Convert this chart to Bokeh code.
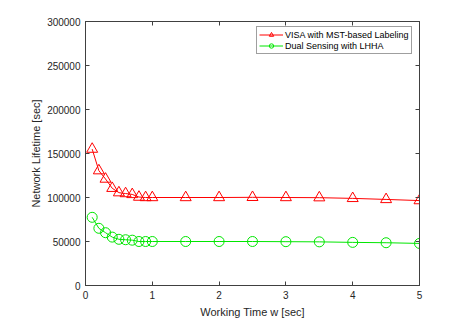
from bokeh.plotting import figure
from bokeh.models import LinearAxis, FixedTicker, Range1d, Legend, LegendItem, CustomJSTickFormatter
from bokeh.embed import file_html
from bokeh.resources import INLINE

x_vals = [0.1, 0.2, 0.3, 0.4, 0.5, 0.6, 0.7, 0.8, 0.9, 1.0, 1.5, 2.0, 2.5, 3.0, 3.5, 4.0, 4.5, 5.0]
visa_mst = [155000, 130500, 121000, 110500, 105500, 104500, 103500, 100500, 100000, 100000,
            100000, 100000, 100200, 100000, 99800, 99000, 97800, 96500]
dual_lhha = [77500, 65000, 60000, 55000, 52500, 52000, 51500, 50000, 50000, 50000,
             50000, 50000, 50000, 49800, 49600, 49000, 48600, 47800]
x_ticks = [0, 1, 2, 3, 4, 5]
y_ticks = [0, 50000, 100000, 150000, 200000, 250000, 300000]

FONT = "Liberation Sans"
AXC = "#404040"

p = figure(frame_width=334, frame_height=264, min_border_left=85, min_border_right=39,
           min_border_top=21, min_border_bottom=31,
           x_range=Range1d(0, 5), y_range=Range1d(0, 300000),
           output_backend="svg", toolbar_location=None,
           x_axis_label="Working Time w [sec]", y_axis_label="Network Lifetime [sec]")
p.grid.visible = False
p.outline_line_color = AXC
p.outline_line_width = 1
p.background_fill_color = "white"
p.border_fill_color = "white"

def style(ax, ticks, show_labels=True):
    ax.ticker = FixedTicker(ticks=ticks)
    ax.major_tick_in = 4
    ax.major_tick_out = 0
    ax.minor_tick_line_color = None
    ax.axis_line_color = AXC
    ax.major_tick_line_color = AXC
    ax.major_label_text_font = FONT
    ax.major_label_text_font_size = "10px"
    ax.major_label_text_color = "#262626"
    ax.axis_label_text_font = FONT
    ax.axis_label_text_font_size = "11px"
    ax.axis_label_text_font_style = "normal"
    ax.axis_label_text_color = "#262626"
    if not show_labels:
        ax.formatter = CustomJSTickFormatter(code="return '';")
        ax.major_label_standoff = 0

style(p.xaxis[0], x_ticks)
style(p.yaxis[0], y_ticks)
p.xaxis[0].major_label_standoff = 5
p.xaxis[0].axis_label_standoff = 4
p.yaxis[0].major_label_standoff = 5
p.yaxis[0].axis_label_standoff = 2
p.yaxis[0].formatter.use_scientific = False

top = LinearAxis()
style(top, x_ticks, False)
p.add_layout(top, "above")
right = LinearAxis()
style(right, y_ticks, False)
p.add_layout(right, "right")

red = "#ff0000"
green = "#00e600"
r1 = p.line(x_vals, visa_mst, line_color=red, line_width=1)
m1 = p.scatter(x_vals, visa_mst, marker="triangle", size=11, line_color=red, fill_color=None, line_width=1)
r2 = p.line(x_vals, dual_lhha, line_color=green, line_width=1)
m2 = p.scatter(x_vals, dual_lhha, marker="circle", size=10, line_color=green, fill_color=None, line_width=1)

legend = Legend(items=[LegendItem(label="VISA with MST-based Labeling", renderers=[r1, m1]),
                       LegendItem(label="Dual Sensing with LHHA", renderers=[r2, m2])],
                location=(171, 231))
legend.label_text_font = FONT
legend.label_text_font_size = "9px"
legend.label_text_color = "#000000"
legend.border_line_color = AXC
legend.border_line_width = 1
legend.padding = 2
legend.margin = 0
legend.spacing = 0
legend.label_height = 11
legend.glyph_height = 11
legend.glyph_width = 24
legend.label_standoff = 2
legend.background_fill_alpha = 1
p.add_layout(legend, "center")

open("out.html", "w").write(file_html(p, INLINE))
